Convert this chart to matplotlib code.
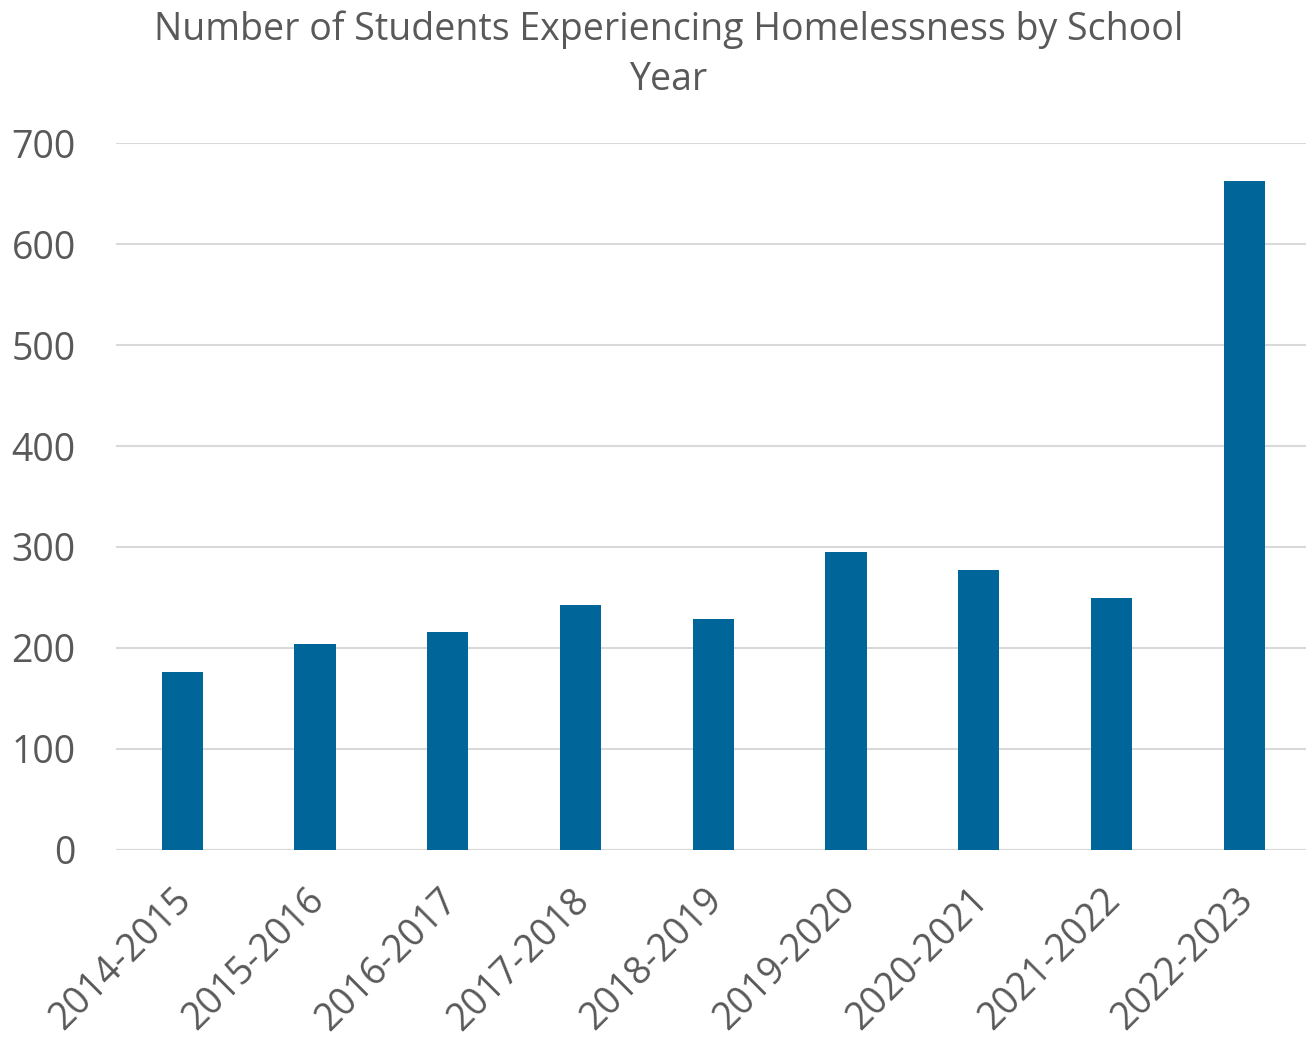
import matplotlib.pyplot as plt
from matplotlib.transforms import ScaledTranslation

plt.rcParams['font.family'] = ['Open Sans', 'DejaVu Sans']

years = ['2014-2015', '2015-2016', '2016-2017', '2017-2018', '2018-2019',
         '2019-2020', '2020-2021', '2021-2022', '2022-2023']
students = [176, 204, 216, 242, 229, 295, 277, 249, 663]

text_color = '#595959'

fig = plt.figure(figsize=(13.06, 10.38), dpi=100)
ax = fig.add_axes([0.0888, 0.1814, 0.9147, 0.6806])

ax.bar(range(len(years)), students, width=0.31, color='#006699', zorder=3)

ax.set_xlim(-0.5, len(years) - 0.5)
ax.set_ylim(0, 700)
ax.set_yticks(range(0, 701, 100))
ax.yaxis.grid(True, color='#d9d9d9', linewidth=1.5, zorder=0)
for spine in ax.spines.values():
    spine.set_visible(False)
ax.axhline(0, color='#d9d9d9', linewidth=1.5, zorder=2)

ax.tick_params(axis='both', length=0, labelsize=27, labelcolor=text_color)
ax.tick_params(axis='y', pad=29)
ax.tick_params(axis='x', pad=12)
ax.set_xticks(range(len(years)))
ax.set_xticklabels(years, rotation=45, ha='right', rotation_mode='anchor')

# nudge the slanted year labels left and down a little
shift = ScaledTranslation(-10 / 100, -15 / 100, fig.dpi_scale_trans)
for label in ax.get_xticklabels():
    label.set_transform(label.get_transform() + shift)

fig.text(0.512, 0.990, 'Number of Students Experiencing Homelessness by School\nYear',
         ha='center', va='top', fontsize=27, color=text_color, linespacing=1.4)

fig.savefig('out.png', dpi=100)
